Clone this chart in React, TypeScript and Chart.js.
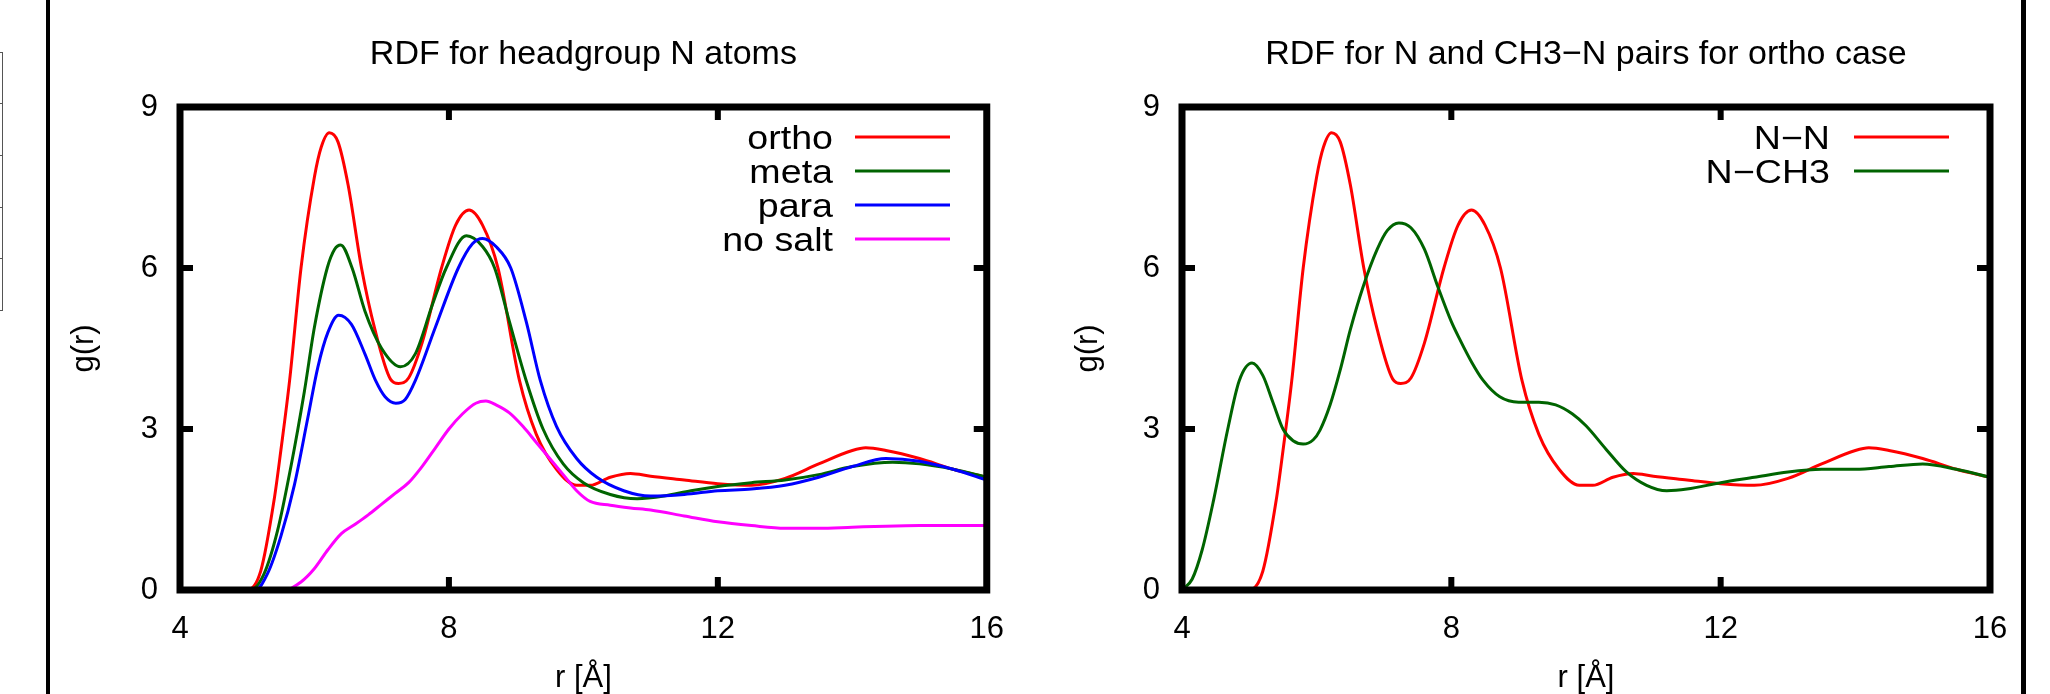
import React, { useEffect, useRef } from 'react';
import { Chart, registerables } from 'chart.js';

Chart.register(...registerables);

const FONT = '"Liberation Sans", Arial, Helvetica, sans-serif';

// ---- axis ticks ----
const xTicks = [4, 8, 12, 16];
const yTicks = [0, 3, 6, 9];

// ---- texts ----
const leftTitle = 'RDF for headgroup N atoms';
const rightTitle = 'RDF for N and CH3\u2212N pairs for ortho case';
const xAxisTitle = 'r [\u00c5]';
const yAxisTitle = 'g(r)';
const leftLabels = ['ortho', 'meta', 'para', 'no salt'];
const rightLabels = ['N\u2212N', 'N\u2212CH3'];

// ---- colours ----
const RED = '#ff0000';
const GREEN = '#006400';
const BLUE = '#0000ff';
const MAGENTA = '#ff00ff';

// ---- series: ortho (also N-N) ----
const rOrtho = [4.0, 5.0, 5.2, 5.4, 5.5, 5.63, 5.8, 6.0, 6.1, 6.22, 6.35, 6.5, 6.7, 6.9, 7.13, 7.25, 7.4, 7.6, 7.89, 8.1, 8.3, 8.5, 8.73, 9.05, 9.3, 9.6, 9.9, 10.1, 10.4, 10.7, 11.0, 11.5, 12.0, 12.5, 13.0, 13.5, 14.0, 14.2, 14.5, 15.0, 15.5, 16.0];
const gOrtho = [0, 0, 0.35, 1.68, 2.6, 3.9, 6.0, 7.7, 8.25, 8.52, 8.35, 7.55, 6.0, 4.85, 3.93, 3.85, 3.95, 4.6, 6.0, 6.8, 7.08, 6.8, 6.0, 3.9, 2.9, 2.25, 1.95, 1.95, 2.1, 2.17, 2.12, 2.05, 1.98, 1.95, 2.08, 2.35, 2.6, 2.65, 2.6, 2.45, 2.25, 2.1];

// ---- series: meta ----
const rMeta = [4.0, 5.05, 5.25, 5.45, 5.65, 5.85, 6.0, 6.19, 6.3, 6.39, 6.56, 6.75, 7.0, 7.28, 7.5, 7.75, 7.96, 8.26, 8.5, 8.68, 8.9, 9.15, 9.4, 9.7, 10.0, 10.4, 10.8, 11.2, 11.6, 12.0, 12.5, 13.0, 13.5, 14.0, 14.6, 15.0, 15.5, 16.0];
const gMeta = [0, 0, 0.3, 1.1, 2.3, 3.7, 4.9, 6.0, 6.35, 6.43, 6.0, 5.2, 4.5, 4.16, 4.4, 5.3, 6.0, 6.6, 6.4, 6.0, 5.0, 3.9, 3.0, 2.35, 2.0, 1.78, 1.7, 1.75, 1.85, 1.93, 2.0, 2.05, 2.15, 2.3, 2.38, 2.35, 2.25, 2.1];

// ---- series: para ----
const rPara = [4.0, 5.12, 5.3, 5.5, 5.7, 5.9, 6.05, 6.2, 6.36, 6.55, 6.75, 6.91, 7.05, 7.21, 7.35, 7.5, 7.8, 8.14, 8.35, 8.5, 8.7, 8.92, 9.15, 9.36, 9.6, 9.9, 10.2, 10.6, 11.0, 11.5, 12.0, 12.5, 13.0, 13.5, 14.0, 14.5, 15.0, 15.5, 16.0];
const gPara = [0, 0, 0.3, 1.0, 1.95, 3.2, 4.15, 4.8, 5.12, 4.95, 4.4, 3.9, 3.6, 3.48, 3.55, 3.9, 4.9, 6.0, 6.45, 6.55, 6.4, 6.0, 5.0, 3.9, 3.05, 2.45, 2.1, 1.85, 1.75, 1.78, 1.85, 1.88, 1.95, 2.1, 2.3, 2.45, 2.4, 2.25, 2.05];

// ---- series: no salt ----
const rNoSalt = [4.0, 5.57, 5.8, 6.0, 6.2, 6.4, 6.6, 6.8, 7.0, 7.2, 7.4, 7.6, 7.8, 8.0, 8.2, 8.4, 8.55, 8.7, 8.9, 9.1, 9.3, 9.5, 9.7, 9.9, 10.1, 10.4, 10.7, 11.0, 11.5, 12.0, 12.5, 13.0, 13.5, 14.0, 14.5, 15.0, 15.5, 16.0];
const gNoSalt = [0, 0, 0.15, 0.4, 0.75, 1.05, 1.22, 1.4, 1.6, 1.8, 2.0, 2.3, 2.65, 3.0, 3.28, 3.48, 3.52, 3.45, 3.3, 3.05, 2.75, 2.45, 2.15, 1.85, 1.65, 1.58, 1.53, 1.49, 1.38, 1.27, 1.2, 1.15, 1.15, 1.17, 1.19, 1.2, 1.2, 1.2];

// ---- series: N-CH3 ----
const rNCH3 = [4.0, 4.15, 4.3, 4.47, 4.68, 4.85, 5.04, 5.2, 5.35, 5.5, 5.65, 5.8, 5.95, 6.05, 6.2, 6.35, 6.5, 6.69, 6.9, 7.05, 7.22, 7.4, 7.6, 7.8, 8.0, 8.13, 8.3, 8.47, 8.72, 9.0, 9.3, 9.55, 9.8, 10.0, 10.3, 10.6, 10.9, 11.2, 11.5, 12.0, 12.5, 13.0, 13.5, 14.0, 14.5, 15.0, 15.5, 16.0];
const gNCH3 = [0, 0.2, 0.75, 1.68, 3.0, 3.9, 4.23, 4.0, 3.5, 3.0, 2.78, 2.72, 2.8, 2.98, 3.45, 4.1, 4.85, 5.65, 6.35, 6.7, 6.84, 6.75, 6.35, 5.65, 5.0, 4.66, 4.25, 3.91, 3.6, 3.5, 3.5, 3.45, 3.28, 3.06, 2.62, 2.2, 1.95, 1.85, 1.88, 2.0, 2.1, 2.2, 2.25, 2.25, 2.3, 2.35, 2.25, 2.1];

type Series = { label: string; r: number[]; g: number[]; color: string };
type Spec = {
  title: string;
  series: Series[];
  padRight: number;
  yWidth: number;
  yTitlePad: number;
  keyTextRight: number;
  keyLineStart: number;
  keyLineEnd: number;
};

const leftSpec: Spec = {
  title: leftTitle,
  series: [
    { label: leftLabels[0], r: rOrtho, g: gOrtho, color: RED },
    { label: leftLabels[1], r: rMeta, g: gMeta, color: GREEN },
    { label: leftLabels[2], r: rPara, g: gPara, color: BLUE },
    { label: leftLabels[3], r: rNoSalt, g: gNoSalt, color: MAGENTA },
  ],
  padRight: 33,
  yWidth: 180,
  yTitlePad: 66,
  keyTextRight: 833,
  keyLineStart: 855,
  keyLineEnd: 950,
};

const rightSpec: Spec = {
  title: rightTitle,
  series: [
    { label: rightLabels[0], r: rOrtho, g: gOrtho, color: RED },
    { label: rightLabels[1], r: rNCH3, g: gNCH3, color: GREEN },
  ],
  padRight: 60,
  yWidth: 157,
  yTitlePad: 45,
  keyTextRight: 805,
  keyLineStart: 829,
  keyLineEnd: 924,
};

const framePlugin = {
  id: 'gnuFrame',
  afterDatasetsDraw(chart: any) {
    const { ctx, chartArea: a, scales } = chart;
    const xs = scales.x;
    const ys = scales.y;
    ctx.save();
    ctx.strokeStyle = '#000';
    ctx.lineWidth = 7;
    ctx.lineJoin = 'miter';
    ctx.strokeRect(a.left, a.top, a.right - a.left, a.bottom - a.top);
    ctx.lineWidth = 6;
    ctx.lineCap = 'butt';
    const L = 13;
    ctx.beginPath();
    xTicks.forEach((v) => {
      const px = xs.getPixelForValue(v);
      if (px > a.left + 2 && px < a.right - 2) {
        ctx.moveTo(px, a.bottom);
        ctx.lineTo(px, a.bottom - L);
        ctx.moveTo(px, a.top);
        ctx.lineTo(px, a.top + L);
      }
    });
    yTicks.forEach((v) => {
      const py = ys.getPixelForValue(v);
      if (py > a.top + 2 && py < a.bottom - 2) {
        ctx.moveTo(a.left, py);
        ctx.lineTo(a.left + L, py);
        ctx.moveTo(a.right, py);
        ctx.lineTo(a.right - L, py);
      }
    });
    ctx.stroke();
    ctx.restore();
  },
};

function makeKeyPlugin(spec: Spec) {
  return {
    id: 'gnuKey',
    afterDraw(chart: any) {
      const { ctx } = chart;
      ctx.save();
      chart.data.datasets.forEach((ds: any, i: number) => {
        const rowY = 137 + i * 34;
        ctx.save();
        ctx.translate(spec.keyTextRight, rowY + 12);
        ctx.scale(1.14, 1);
        ctx.font = `33px ${FONT}`;
        ctx.fillStyle = '#000';
        ctx.textAlign = 'right';
        ctx.textBaseline = 'alphabetic';
        ctx.fillText(ds.label, 0, 0);
        ctx.restore();
        ctx.strokeStyle = ds.borderColor;
        ctx.lineWidth = 3;
        ctx.beginPath();
        ctx.moveTo(spec.keyLineStart, rowY);
        ctx.lineTo(spec.keyLineEnd, rowY);
        ctx.stroke();
      });
      ctx.restore();
    },
  };
}

function makeConfig(spec: Spec): any {
  const n = spec.series.length;
  return {
    type: 'line',
    data: {
      datasets: spec.series.map((s, i) => ({
        label: s.label,
        data: s.r.map((r, j) => ({ x: r, y: s.g[j] })),
        borderColor: s.color,
        backgroundColor: s.color,
        borderWidth: 3,
        pointRadius: 0,
        fill: false,
        cubicInterpolationMode: 'monotone',
        order: n - i,
      })),
    },
    options: {
      responsive: false,
      maintainAspectRatio: false,
      animation: false,
      events: [],
      layout: { padding: { left: 0, top: 0, right: spec.padRight, bottom: 0 } },
      plugins: {
        legend: { display: false },
        tooltip: { enabled: false },
        title: {
          display: true,
          text: spec.title,
          color: '#000',
          fullSize: false,
          font: { family: FONT, size: 34, weight: 'normal', lineHeight: 1.2 },
          padding: { top: 34.6, bottom: 31.6 },
        },
      },
      scales: {
        x: {
          type: 'linear',
          min: 4,
          max: 16,
          afterBuildTicks: (s: any) => {
            s.ticks = xTicks.map((v) => ({ value: v }));
          },
          afterFit: (s: any) => {
            s.height = 104;
          },
          grid: { display: false, drawTicks: false },
          border: { display: false },
          ticks: {
            color: '#000',
            font: { family: FONT, size: 31 },
            padding: 21,
            maxRotation: 0,
            autoSkip: false,
          },
          title: {
            display: true,
            text: xAxisTitle,
            color: '#000',
            font: { family: FONT, size: 31, lineHeight: 1 },
            padding: { top: 0, bottom: 0 },
          },
        },
        y: {
          type: 'linear',
          min: 0,
          max: 9,
          afterBuildTicks: (s: any) => {
            s.ticks = yTicks.map((v) => ({ value: v }));
          },
          afterFit: (s: any) => {
            s.width = spec.yWidth;
          },
          grid: { display: false, drawTicks: false },
          border: { display: false },
          ticks: {
            color: '#000',
            font: { family: FONT, size: 31 },
            padding: 22,
            autoSkip: false,
          },
          title: {
            display: true,
            text: yAxisTitle,
            color: '#000',
            font: { family: FONT, size: 31, lineHeight: 1.2 },
            padding: { top: spec.yTitlePad, bottom: 0 },
          },
        },
      },
    },
    plugins: [framePlugin, makeKeyPlugin(spec)],
  };
}

export default function App() {
  const leftRef = useRef<HTMLCanvasElement | null>(null);
  const rightRef = useRef<HTMLCanvasElement | null>(null);

  useEffect(() => {
    document.body.style.margin = '0';
    const charts: Chart[] = [];
    if (leftRef.current) charts.push(new Chart(leftRef.current, makeConfig(leftSpec)));
    if (rightRef.current) charts.push(new Chart(rightRef.current, makeConfig(rightSpec)));
    return () => {
      charts.forEach((c) => c.destroy());
    };
  }, []);

  const tableRows = [52, 103, 155, 207, 258, 310];

  return (
    <div
      style={{
        position: 'fixed',
        left: 0,
        top: 0,
        width: 2050,
        height: 694,
        background: '#fff',
        overflow: 'hidden',
      }}
    >
      {tableRows.map((y) => (
        <div
          key={y}
          style={{ position: 'absolute', left: 0, top: y, width: 3, height: 1, background: '#555' }}
        />
      ))}
      <div style={{ position: 'absolute', left: 2, top: 52, width: 1, height: 259, background: '#555' }} />
      <div style={{ position: 'absolute', left: 46, top: 0, width: 4, height: 694, background: '#000' }} />
      <div style={{ position: 'absolute', left: 2021, top: 0, width: 5, height: 694, background: '#000' }} />
      <canvas
        ref={leftRef}
        width={1025}
        height={694}
        style={{ position: 'absolute', left: 0, top: 0, width: 1025, height: 694 }}
      />
      <canvas
        ref={rightRef}
        width={1025}
        height={694}
        style={{ position: 'absolute', left: 1025, top: 0, width: 1025, height: 694 }}
      />
    </div>
  );
}
